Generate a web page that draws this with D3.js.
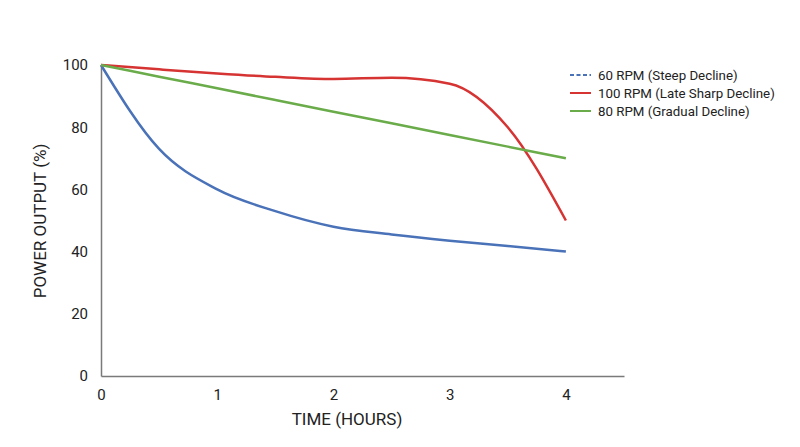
<!DOCTYPE html>
<html>
<head>
<meta charset="utf-8">
<script src="https://cdn.jsdelivr.net/npm/d3@7"></script>
<style>
  body { margin: 0; background: #fff; }
  svg { display: block; font-family: Roboto, "Noto Sans", sans-serif; }
</style>
</head>
<body>
<svg id="chart" width="800" height="447"></svg>
<script>
// ---- data ----
const hours = [0, 0.5, 1, 1.5, 2, 2.5, 3, 3.5, 4];
const rpm60 = [100, 73, 60, 53, 48, 45.5, 43.5, 41.8, 40];
const rpm100 = [100, 98.6, 97.3, 96.2, 95.5, 95.9, 94, 80, 50];
const rpm80 = [100, 96.25, 92.5, 88.75, 85, 81.25, 77.5, 73.75, 70];
const seriesNames = ["60 RPM (Steep Decline)", "100 RPM (Late Sharp Decline)", "80 RPM (Gradual Decline)"];
const xTicks = [0, 1, 2, 3, 4];
const yTicks = [0, 20, 40, 60, 80, 100];
const xTitle = "TIME (HOURS)";
const yTitle = "POWER OUTPUT (%)";

const colors = ["#4a72b8", "#d63333", "#6aab4a"];
const series = [
  { name: seriesNames[0], values: rpm60, color: colors[0], dashLegend: true },
  { name: seriesNames[1], values: rpm100, color: colors[1], dashLegend: false },
  { name: seriesNames[2], values: rpm80, color: colors[2], dashLegend: false }
];

const svg = d3.select("#chart");
const x = d3.scaleLinear().domain([0, 4.5]).range([101, 624]);
const y = d3.scaleLinear().domain([0, 100]).range([376, 65]);

// axes
const xAxis = svg.append("g").attr("transform", "translate(0,376)")
  .call(d3.axisBottom(x).tickValues(xTicks).tickSize(0).tickPadding(13).tickFormat(d3.format("d")));
const yAxis = svg.append("g").attr("transform", "translate(101,0)")
  .call(d3.axisLeft(y).tickValues(yTicks).tickSize(0).tickPadding(13).tickFormat(d3.format("d")));
[xAxis, yAxis].forEach(a => {
  a.select(".domain").attr("stroke", "#7a7a7a").attr("stroke-width", 1.5);
  a.selectAll("text").attr("font-size", 15).attr("fill", "#222")
    .attr("font-family", "Roboto, sans-serif");
});

// titles
svg.append("text").attr("x", 347).attr("y", 425).attr("text-anchor", "middle")
  .attr("font-size", 17).attr("fill", "#222").text(xTitle);
svg.append("text").attr("transform", "translate(46,221) rotate(-90)")
  .attr("text-anchor", "middle").attr("font-size", 17).attr("fill", "#222").text(yTitle);

// lines
const line = d3.line().x((d, i) => x(hours[i])).y(d => y(d)).curve(d3.curveMonotoneX);
series.forEach(s => {
  svg.append("path").attr("d", line(s.values)).attr("fill", "none")
    .attr("stroke", s.color).attr("stroke-width", 2.5).attr("stroke-linejoin", "round");
});

// legend
const lg = svg.append("g").attr("transform", "translate(570,75)");
series.forEach((s, i) => {
  const row = lg.append("g").attr("transform", `translate(0,${i * 18})`);
  row.append("line").attr("x1", 0).attr("x2", 21).attr("y1", 0).attr("y2", 0)
    .attr("stroke", s.color).attr("stroke-width", 2)
    .attr("stroke-dasharray", s.dashLegend ? "4,2.5" : null);
  row.append("text").attr("x", 28).attr("y", 0).attr("dy", "0.35em")
    .attr("font-size", 13.3).attr("fill", "#222").text(s.name);
});
</script>
</body>
</html>
